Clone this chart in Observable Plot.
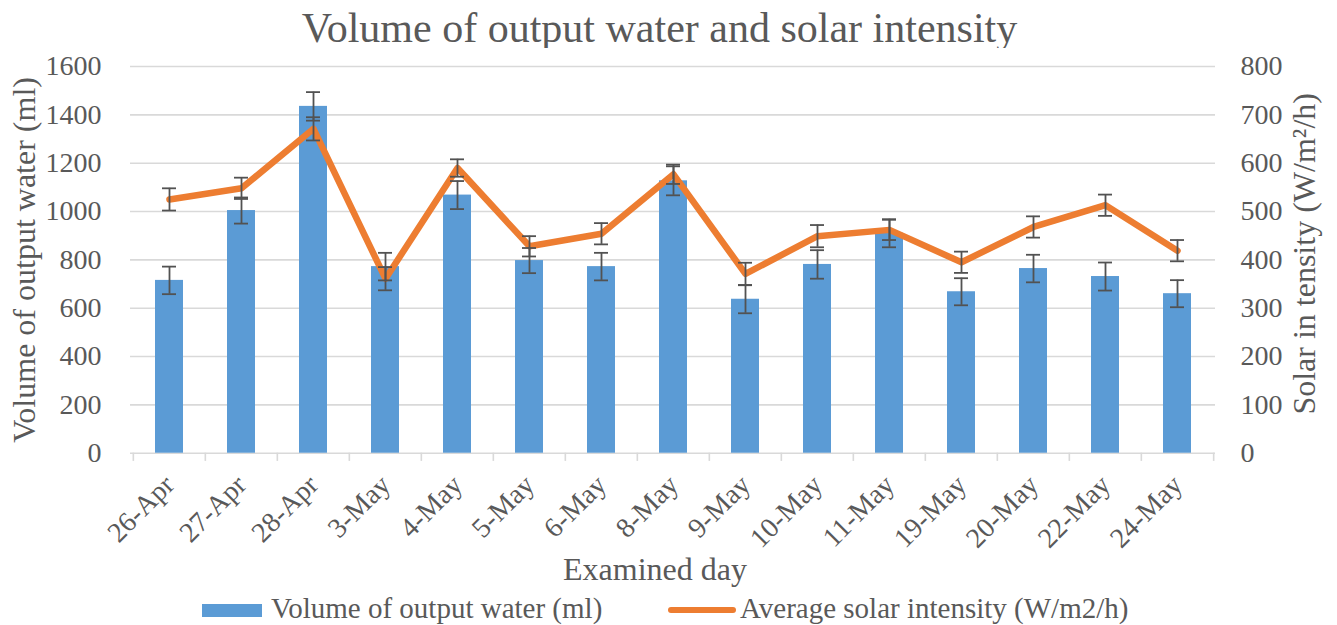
<!DOCTYPE html>
<html>
<head>
<meta charset="utf-8">
<script src="https://cdn.jsdelivr.net/npm/d3@7"></script>
<script src="https://cdn.jsdelivr.net/npm/@observablehq/plot@0.6"></script>
<style>
  html, body { margin: 0; padding: 0; background: #fff; }
  body { position: relative; width: 1337px; height: 625px; overflow: hidden;
         font-family: "Liberation Serif", "Times New Roman", serif; color: #595959; }
  #title { height: 48px; line-height: 56px; font-size: 42px; text-align: center; white-space: nowrap; margin-left: -18px; }
  #chart { position: absolute; left: 0; top: 48px; }
  #chart svg text { font-family: "Liberation Serif", "Times New Roman", serif; }
  .leg { position: absolute; font-size: 29px; line-height: 29px; white-space: nowrap; }
  .sw { position: absolute; }
</style>
</head>
<body>
<div id="title">Volume of output water and solar intensity</div>
<div id="chart"></div>
<div class="sw" style="left:202px; top:604px; width:60px; height:13px; background:#5B9BD5;"></div>
<div class="leg" style="left:271px; top:594px;">Volume of output water (ml)</div>
<div class="sw" style="left:668px; top:607px; width:68px; height:6px; background:#ED7D31; border-radius:3px;"></div>
<div class="leg" style="left:740px; top:594px;">Average solar intensity (W/m2/h)</div>
<script>
const days = ["26-Apr","27-Apr","28-Apr","3-May","4-May","5-May","6-May","8-May","9-May","10-May","11-May","19-May","20-May","22-May","24-May"];
const water = [715, 1004, 1435, 772, 1068, 797, 772, 1127, 637, 781, 910, 668, 764, 731, 660];
const waterErr = [57, 54, 59, 57, 58, 52, 57, 60, 58, 59, 58, 56, 57, 58, 56];
const solar = [525, 548, 671, 361, 590, 428, 454, 577, 371, 449, 462, 395, 468, 513, 419];
const solarErr = [23, 22, 24, 24, 18, 21, 22, 20, 23, 23, 21, 22, 22, 22, 22];
const leftTicks = [0, 200, 400, 600, 800, 1000, 1200, 1400, 1600];
const rightTicks = [0, 100, 200, 300, 400, 500, 600, 700, 800];

const data = days.map((d, i) => ({day: d, water: water[i], werr: waterErr[i], solar: solar[i], serr: solarErr[i]}));

const W = 1337, ML = 130, MR = 122;
const step = (W - ML - MR) / days.length;
const ratio = 1600 / 800; // right axis -> left axis units
const gray = "#595959";
const errColor = "#525252";
const serif = "Liberation Serif, Times New Roman, serif";

const chart = Plot.plot({
  width: W,
  height: 542,
  marginLeft: ML,
  marginRight: MR,
  marginTop: 18,
  marginBottom: 137.3,
  x: {domain: days, paddingInner: 0.615, paddingOuter: 0.3075},
  y: {domain: [0, 1600]},
  style: {fontFamily: serif, fontSize: "28px", color: gray, background: "white", overflow: "visible"},
  marks: [
    Plot.ruleY(leftTicks, {y: d => d, stroke: "#D9D9D9", strokeWidth: 1.6}),
    Plot.ruleX(days, {x: d => d, dx: -step / 2, y1: 0, y2: -34, stroke: "#D9D9D9", strokeWidth: 1.6}),
    Plot.ruleX(days.slice(-1), {x: d => d, dx: step / 2, y1: 0, y2: -34, stroke: "#D9D9D9", strokeWidth: 1.6}),
    Plot.barY(data, {x: "day", y: "water", fill: "#5B9BD5"}),
    Plot.lineY(data, {x: "day", y: d => d.solar * ratio, stroke: "#ED7D31", strokeWidth: 6.5, strokeLinejoin: "round", strokeLinecap: "round"}),
    // water error bars
    Plot.ruleX(data, {x: "day", y1: d => d.water - d.werr, y2: d => d.water + d.werr, stroke: errColor, strokeWidth: 1.8}),
    Plot.tickY(data, {x: "day", y: d => d.water - d.werr, stroke: errColor, strokeWidth: 1.8, insetLeft: 7, insetRight: 7}),
    Plot.tickY(data, {x: "day", y: d => d.water + d.werr, stroke: errColor, strokeWidth: 1.8, insetLeft: 7, insetRight: 7}),
    // solar error bars
    Plot.ruleX(data, {x: "day", y1: d => (d.solar - d.serr) * ratio, y2: d => (d.solar + d.serr) * ratio, stroke: errColor, strokeWidth: 1.8}),
    Plot.tickY(data, {x: "day", y: d => (d.solar - d.serr) * ratio, stroke: errColor, strokeWidth: 1.8, insetLeft: 7, insetRight: 7}),
    Plot.tickY(data, {x: "day", y: d => (d.solar + d.serr) * ratio, stroke: errColor, strokeWidth: 1.8, insetLeft: 7, insetRight: 7}),
    // axes
    Plot.axisY({anchor: "left", ticks: leftTicks, tickFormat: d => String(d), tickSize: 0, tickPadding: 29, label: null, fill: gray, fontFamily: serif, fontSize: 28}),
    Plot.axisY({anchor: "right", ticks: rightTicks.map(v => v * ratio), tickFormat: d => String(d / ratio), tickSize: 0, tickPadding: 25, label: null, fill: gray, fontFamily: serif, fontSize: 28}),
    Plot.axisX({anchor: "bottom", tickRotate: -45, tickSize: 0, tickPadding: 27, label: null, fill: gray, fontFamily: serif, fontSize: 28}),
    // axis titles
    Plot.text(["Volume of output water (ml)"], {text: d => d, frameAnchor: "left", textAnchor: "middle", rotate: -90, dx: -106, fontSize: 32, fontFamily: serif, fill: gray}),
    Plot.text(["Solar in tensity (W/m²/h)"], {text: d => d, frameAnchor: "right", textAnchor: "middle", rotate: -90, dx: 89, dy: -6, fontSize: 32, fontFamily: serif, fill: gray}),
    Plot.text(["Examined day"], {text: d => d, frameAnchor: "bottom", textAnchor: "middle", lineAnchor: "middle", dx: -18, dy: 117, fontSize: 32, fontFamily: serif, fill: gray})
  ]
});
document.getElementById("chart").appendChild(chart);
</script>
</body>
</html>
